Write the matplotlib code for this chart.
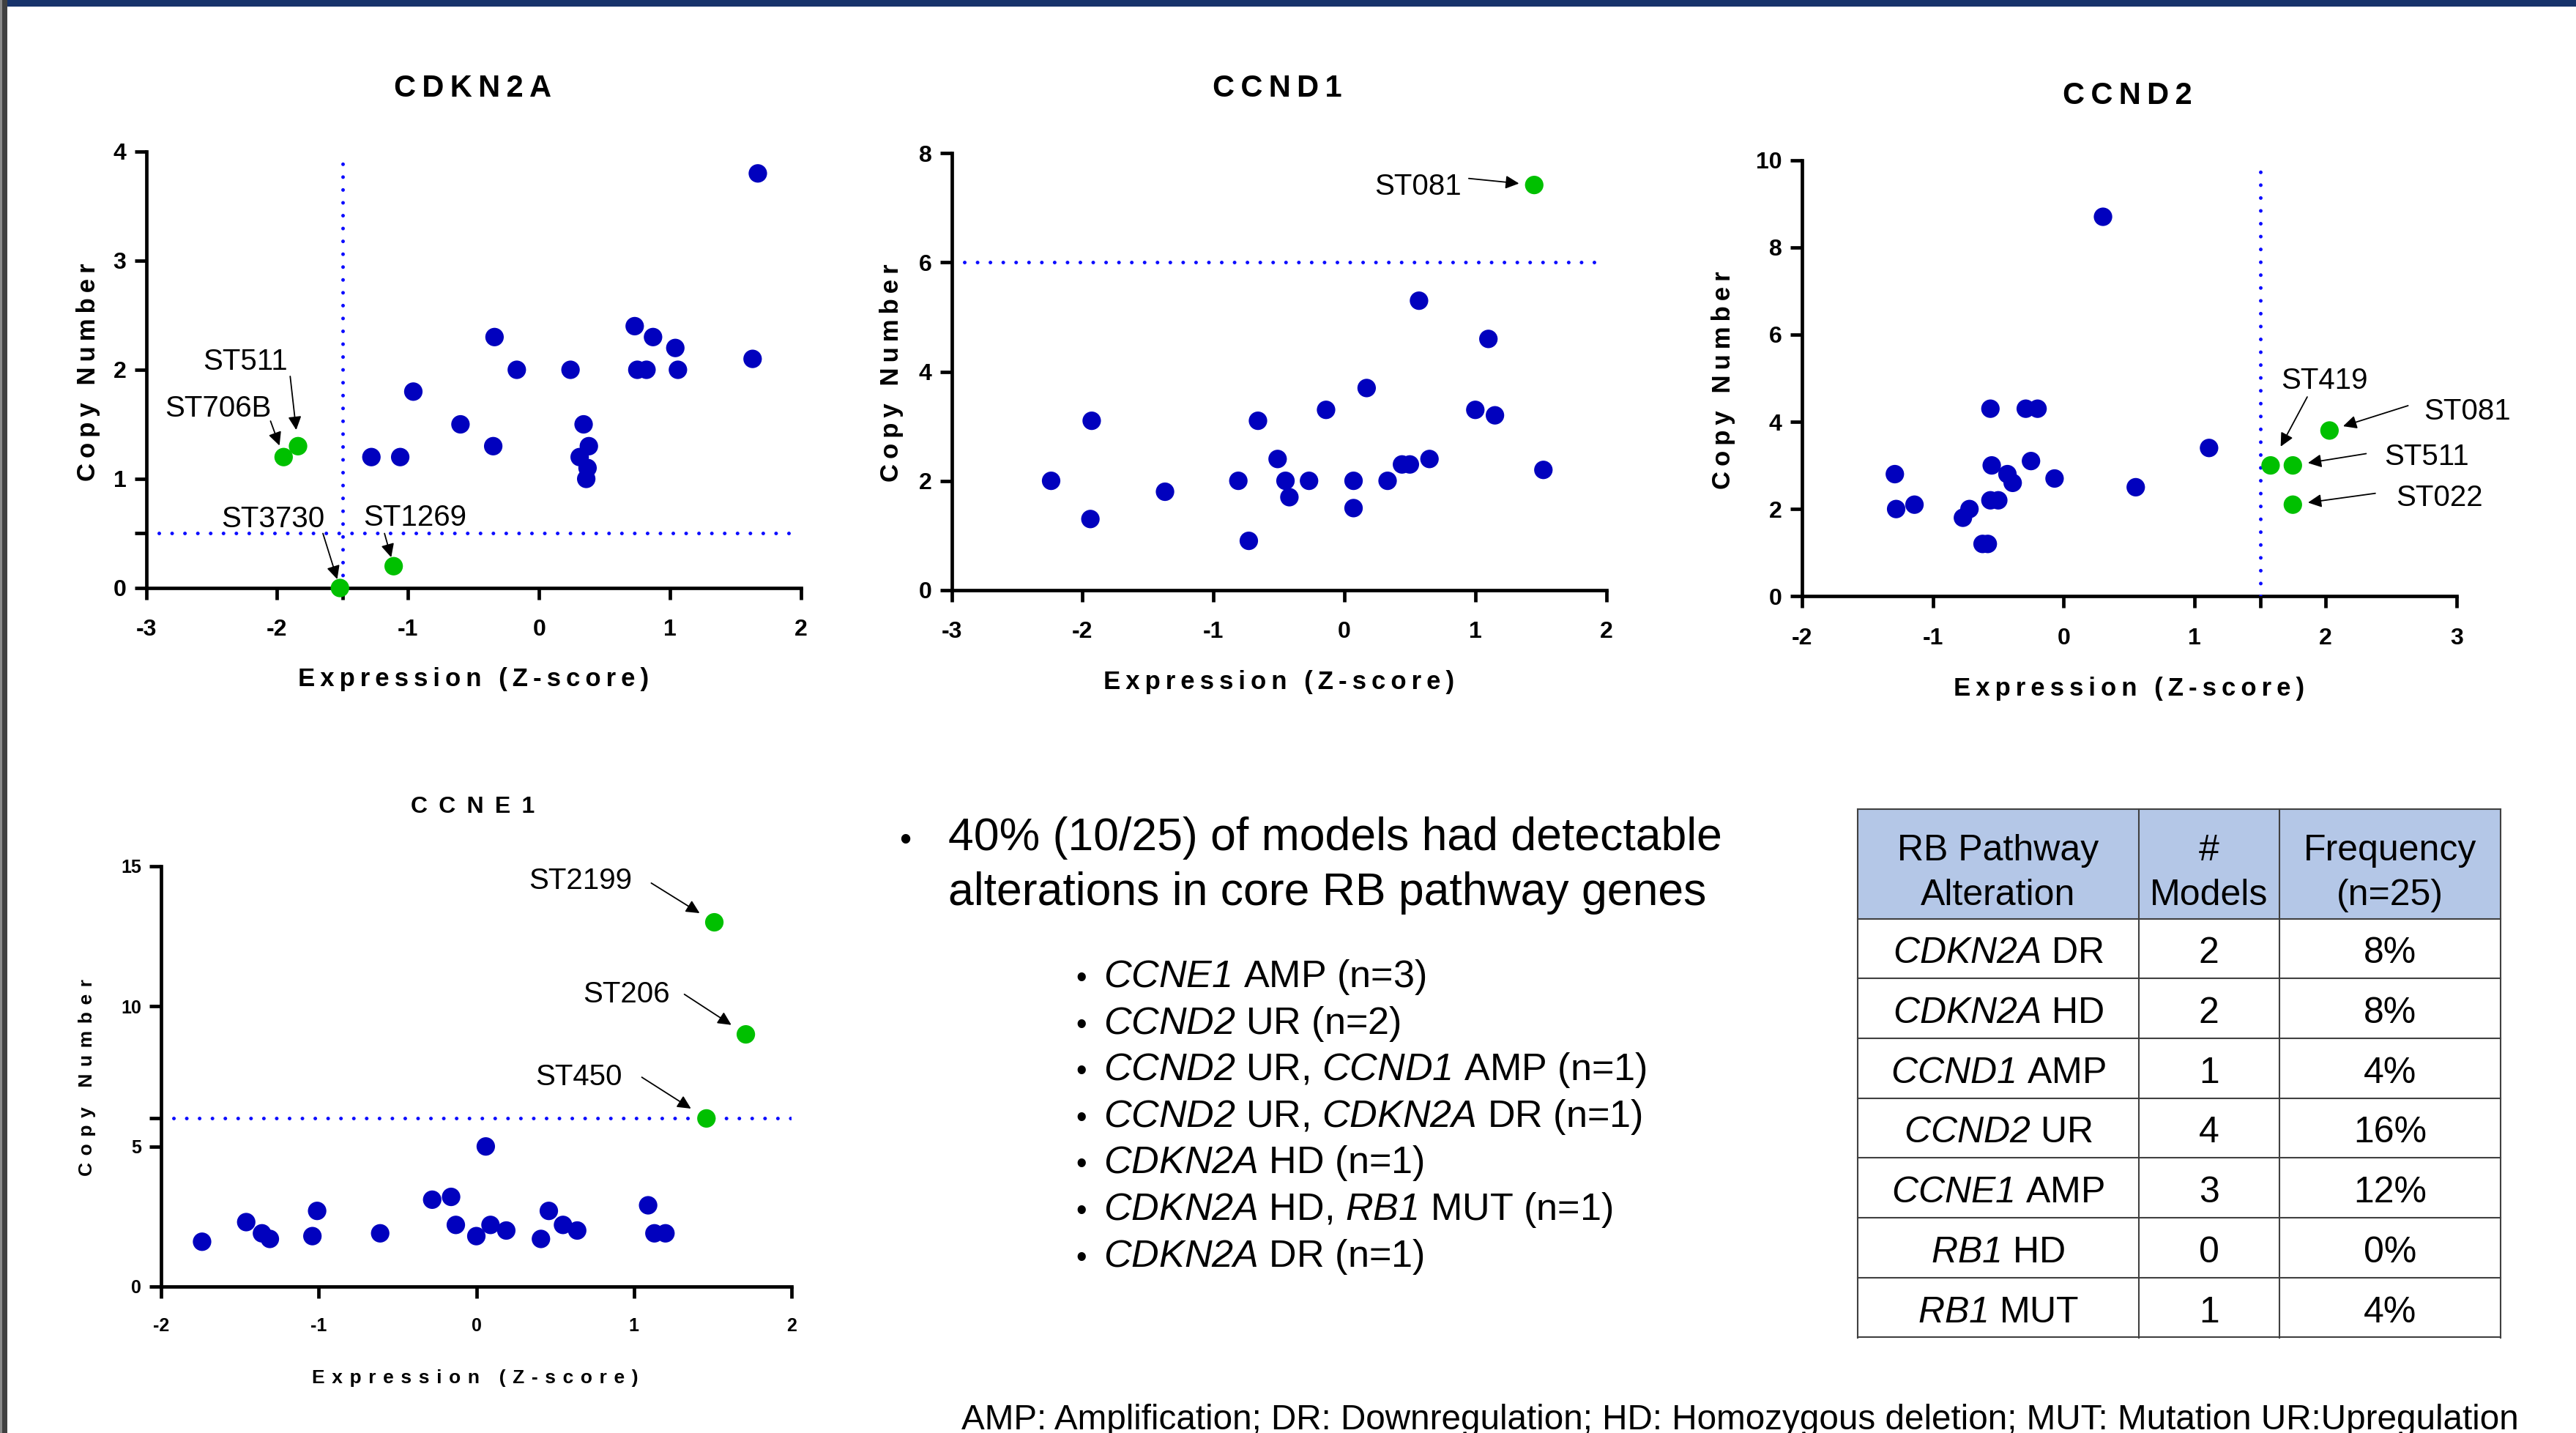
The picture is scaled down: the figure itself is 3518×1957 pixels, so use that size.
import matplotlib
matplotlib.use('Agg')
from matplotlib import pyplot as plt
from matplotlib.patches import Rectangle

plt.rcParams['font.family'] = ['Liberation Sans', 'DejaVu Sans']
plt.rcParams['mathtext.fontset'] = 'custom'
# gene names are set in italics, digits included
plt.rcParams['mathtext.rm'] = 'Liberation Sans:italic'
plt.rcParams['mathtext.it'] = 'Liberation Sans:italic'
plt.rcParams['mathtext.bf'] = 'Liberation Sans:bold'

# ---- data ----
cdkn2a_x = [1.67, 0.73, 0.87, 1.04, 1.06, 0.75, 0.82, 0.24, -0.17, -0.34, 1.63,
            -0.96, -0.60, -0.35, -1.28, -1.06, 0.34, 0.38, 0.31, 0.37, 0.36]
cdkn2a_y = [3.8, 2.4, 2.3, 2.2, 2.0, 2.0, 2.0, 2.0, 2.0, 2.3, 2.1,
            1.8, 1.5, 1.3, 1.2, 1.2, 1.5, 1.3, 1.2, 1.1, 1.0]
cdkn2a_alt_x = [-1.95, -1.84, -1.52, -1.11]
cdkn2a_alt_y = [1.2, 1.3, 0.0, 0.2]
cdkn2a_alt_names = ['ST706B', 'ST511', 'ST3730', 'ST1269']

ccnd1_x = [0.57, 1.10, 0.17, -0.14, 1.00, 1.15, -1.93, -0.66, -0.51, 0.65, 0.44, 0.50,
           1.52, -2.24, -0.81, -0.45, -0.27, 0.07, 0.33, -1.37, -0.42, 0.07, -1.94, -0.73]
ccnd1_y = [5.3, 4.6, 3.7, 3.3, 3.3, 3.2, 3.1, 3.1, 2.4, 2.4, 2.3, 2.3,
           2.2, 2.0, 2.0, 2.0, 2.0, 2.0, 2.0, 1.8, 1.7, 1.5, 1.3, 0.9]
ccnd1_alt_x = [1.45]
ccnd1_alt_y = [7.42]
ccnd1_alt_names = ['ST081']

ccnd2_x = [0.30, -0.56, -0.29, -0.20, 1.11, -1.29, -0.55, -0.25, -0.43, -0.39,
           -0.07, 0.55, -1.28, -1.14, -0.72, -0.77, -0.56, -0.50, -0.62, -0.58]
ccnd2_y = [8.7, 4.3, 4.3, 4.3, 3.4, 2.8, 3.0, 3.1, 2.8, 2.6,
           2.7, 2.5, 2.0, 2.1, 2.0, 1.8, 2.2, 2.2, 1.2, 1.2]
ccnd2_alt_x = [1.58, 1.75, 2.03, 1.75]
ccnd2_alt_y = [3.0, 3.0, 3.8, 2.1]
ccnd2_alt_names = ['ST419', 'ST511', 'ST081', 'ST022']

ccne1_x = [0.06, -0.28, -0.16, -1.01, -1.46, -1.36, -1.31, -1.74, -1.04, -0.61, -0.13,
           0.00, 0.09, 0.19, 0.46, 0.55, 0.64, 0.41, 1.09, 1.13, 1.20]
ccne1_y = [5.0, 3.1, 3.2, 2.7, 2.3, 1.9, 1.7, 1.6, 1.8, 1.9, 2.2,
           1.8, 2.2, 2.0, 2.7, 2.2, 2.0, 1.7, 2.9, 1.9, 1.9]
ccne1_alt_x = [1.51, 1.71, 1.46]
ccne1_alt_y = [13.0, 9.0, 6.0]
ccne1_alt_names = ['ST2199', 'ST206', 'ST450']

summary_line1 = '40% (10/25) of models had detectable'
summary_line2 = 'alterations in core RB pathway genes'
sub_items = [
    r'$\mathit{CCNE1}$ AMP (n=3)',
    r'$\mathit{CCND2}$ UR (n=2)',
    r'$\mathit{CCND2}$ UR, $\mathit{CCND1}$ AMP (n=1)',
    r'$\mathit{CCND2}$ UR, $\mathit{CDKN2A}$ DR (n=1)',
    r'$\mathit{CDKN2A}$ HD (n=1)',
    r'$\mathit{CDKN2A}$ HD, $\mathit{RB1}$ MUT (n=1)',
    r'$\mathit{CDKN2A}$ DR (n=1)',
]

table_head_top = ['RB Pathway', '#', 'Frequency']
table_head_bottom = ['Alteration', 'Models', '(n=25)']
table_genes = ['CDKN2A', 'CDKN2A', 'CCND1', 'CCND2', 'CCNE1', 'RB1', 'RB1']
table_alts = ['DR', 'HD', 'AMP', 'UR', 'AMP', 'HD', 'MUT']
table_models = [2, 2, 1, 4, 3, 0, 1]
table_freq = ['8%', '8%', '4%', '16%', '12%', '0%', '4%']

footnote = ('AMP: Amplification; DR: Downregulation; HD: Homozygous deletion; '
            'MUT: Mutation UR:Upregulation')

# ---- layout helpers (pixel positions of the 3518x1957 slide) ----
W, H = 3518, 1957
BLUE = '#0101BE'
GREEN = '#00C000'
LINE = '#0D0DFF'
THIN = '\u2009'
HAIR = '\u200a'


def fx(px):
    return px / W


def fy(py):
    return 1 - py / H


def spaced(s, sep):
    return sep.join(s)


def box(left, top, right, bottom):
    return [fx(left), fy(bottom), (right - left) / W, (bottom - top) / H]


fig = plt.figure(figsize=(W / 100, H / 100), dpi=100)

# slide frame
fig.patches.append(Rectangle((0, fy(9)), 1, 9 / H, transform=fig.transFigure,
                             fc='#17336B', ec='none', zorder=0))
fig.patches.append(Rectangle((0, 0), 2.5 / W, 1, transform=fig.transFigure,
                             fc='#8A8A8A', ec='none', zorder=0))
fig.patches.append(Rectangle((2.5 / W, 0), 7.5 / W, 1, transform=fig.transFigure,
                             fc='#404040', ec='none', zorder=0))


def panel(rect, bx, by, gx, gy, xlim, ylim, xticks, xlabels, yticks, ylabels, tsize):
    ax = fig.add_axes(rect)
    ax.patch.set_alpha(0)
    ax.set_xlim(*xlim)
    ax.set_ylim(*ylim)
    for side in ['top', 'right']:
        ax.spines[side].set_visible(False)
    for side in ['left', 'bottom']:
        ax.spines[side].set_linewidth(3.4)
    ax.set_xticks(xticks, xlabels, fontweight='bold', fontsize=tsize)
    ax.set_yticks(yticks, ylabels, fontweight='bold', fontsize=tsize)
    ax.tick_params(direction='out', length=11.5, width=3.4)
    ax.tick_params(axis='x', pad=19)
    ax.tick_params(axis='y', pad=8)
    ax.scatter(bx, by, s=330, color=BLUE, edgecolors='none', zorder=4, clip_on=False)
    ax.scatter(gx, gy, s=330, color=GREEN, edgecolors='none', zorder=4, clip_on=False)
    return ax


def cutoff(ax, kind, value, start=0.0):
    style = dict(color=LINE, lw=3.6, linestyle=(0, (0.01, 3.5)),
                 dash_capstyle='round', zorder=3)
    if kind == 'h':
        ax.axhline(value, xmin=start, **style)
    else:
        ax.axvline(value, ymin=start, **style)


def label_points(ax, gx, gy, names, notes, size):
    for name, tx, ty, ax0, ay0, shrink in notes:
        i = names.index(name)
        ax.text(tx, ty, name, ha='center', va='center_baseline', fontsize=size,
                clip_on=False)
        ax.annotate('', xy=(gx[i], gy[i]), xytext=(ax0, ay0),
                    arrowprops=dict(arrowstyle='-|>,head_length=0.55,head_width=0.27',
                                    color='black', lw=1.3, shrinkA=0, shrinkB=shrink,
                                    mutation_scale=20),
                    annotation_clip=False)


def titles(title, tx, ty, tsize, sep, xl_y, yl_x, yl_y, lsize, lsep, cx):
    fig.text(fx(tx), fy(ty), spaced(title, sep), ha='center', va='center_baseline',
             fontsize=tsize, fontweight='bold')
    fig.text(fx(cx), fy(xl_y), spaced('Expression (Z-score)', lsep), ha='center',
             va='center_baseline', fontsize=lsize, fontweight='bold')
    fig.text(fx(yl_x), fy(yl_y), spaced('Copy Number', lsep), ha='center', va='center',
             rotation=90, fontsize=lsize, fontweight='bold')


# CDKN2A
ax1 = panel(box(199.5, 207, 1094, 803), cdkn2a_x, cdkn2a_y, cdkn2a_alt_x, cdkn2a_alt_y,
            (-3, 2), (0, 4),
            [-3, -2, -1.5, -1, 0, 1, 2], ['-3', '-2', '', '-1', '0', '1', '2'],
            [0, 0.5, 1, 2, 3, 4], ['0', '', '1', '2', '3', '4'], 23)
cutoff(ax1, 'h', 0.5, start=0.02)
cutoff(ax1, 'v', -1.5)
label_points(ax1, cdkn2a_alt_x, cdkn2a_alt_y, cdkn2a_alt_names, [
    ('ST511', -2.24, 2.10, -1.90, 1.94, 16),
    ('ST706B', -2.45, 1.67, -2.05, 1.53, 12),
    ('ST3730', -2.03, 0.66, -1.65, 0.50, 9),
    ('ST1269', -0.95, 0.67, -1.18, 0.50, 9),
], 29)
titles('CDKN2A', 646, 116, 30, THIN, 924, 121, 508, 25, THIN, 646.75)

# CCND1
ax2 = panel(box(1299.6, 209.4, 2193.6, 805.7), ccnd1_x, ccnd1_y, ccnd1_alt_x, ccnd1_alt_y,
            (-3, 2), (0, 8),
            [-3, -2, -1, 0, 1, 2], ['-3', '-2', '-1', '0', '1', '2'],
            [0, 2, 4, 6, 8], ['0', '2', '4', '6', '8'], 23)
cutoff(ax2, 'h', 6, start=0.02)
label_points(ax2, ccnd1_alt_x, ccnd1_alt_y, ccnd1_alt_names, [
    ('ST081', 0.56, 7.44, 0.95, 7.54, 15),
], 29)
titles('CCND1', 1744, 116, 30, THIN, 927.6, 1217.5, 509.5, 25, THIN, 1746.6)

# CCND2
ax3 = panel(box(2460.8, 218.6, 3354.8, 814.3), ccnd2_x, ccnd2_y, ccnd2_alt_x, ccnd2_alt_y,
            (-2, 3), (0, 10),
            [-2, -1, 0, 1, 1.5, 2, 3], ['-2', '-1', '0', '1', '', '2', '3'],
            [0, 2, 4, 6, 8, 10], ['0', '2', '4', '6', '8', '10'], 23)
cutoff(ax3, 'v', 1.5)
label_points(ax3, ccnd2_alt_x, ccnd2_alt_y, ccnd2_alt_names, [
    ('ST419', 1.99, 5.00, 1.86, 4.57, 21),
    ('ST081', 3.08, 4.30, 2.63, 4.37, 14),
    ('ST511', 2.77, 3.26, 2.31, 3.27, 15),
    ('ST022', 2.87, 2.33, 2.38, 2.36, 15),
], 29)
titles('CCND2', 2905, 127, 30, THIN, 937, 2354, 519, 25, THIN, 2907.8)

# CCNE1
ax4 = panel(box(220, 1183, 1081, 1757), ccne1_x, ccne1_y, ccne1_alt_x, ccne1_alt_y,
            (-2, 2), (0, 15),
            [-2, -1, 0, 1, 2], ['-2', '-1', '0', '1', '2'],
            [0, 5, 6, 10, 15], ['0', '5', '', '10', '15'], 18)
cutoff(ax4, 'h', 6, start=0.02)
label_points(ax4, ccne1_alt_x, ccne1_alt_y, ccne1_alt_names, [
    ('ST2199', 0.66, 14.58, 1.11, 14.40, 17),
    ('ST206', 0.95, 10.54, 1.32, 10.43, 17),
    ('ST450', 0.65, 7.59, 1.05, 7.47, 18),
], 29)
titles('CCNE1', 646, 1099, 23, ' ' + THIN, 1880, 119, 1472, 19, ' ' + HAIR, 649)

# summary text
fig.text(fx(1236), fy(1161), '\u2022', ha='center', va='baseline', fontsize=33)
fig.text(fx(1295), fy(1161), summary_line1, ha='left', va='baseline', fontsize=45)
fig.text(fx(1295), fy(1236), summary_line2, ha='left', va='baseline', fontsize=45)
for k, item in enumerate(sub_items):
    base = 1348 + 63.6 * k
    fig.text(fx(1477), fy(base), '\u2022', ha='center', va='baseline', fontsize=30)
    fig.text(fx(1507), fy(base), item, ha='left', va='baseline', fontsize=37.5)

# table
tab = fig.add_axes(box(2537, 1105, 3415.4, 1826.6))
tab.set_xlim(0, 878.4)
tab.set_ylim(721.6, 0)
tab.axis('off')
cols = [0, 383.7, 575.9, 878.4]
head_h = 149.5
row_h = 81.7
tab.add_patch(Rectangle((0, 0), 878.4, head_h, fc='#B4C7E7', ec='none'))
grid = dict(color='#404040', lw=1.5, clip_on=False, solid_capstyle='projecting')
for k in range(len(table_genes) + 2):
    yy = 0 if k == 0 else head_h + row_h * (k - 1)
    tab.plot([0, 878.4], [yy, yy], **grid)
for c in cols:
    tab.plot([c, c], [0, 721.6], **grid)
centers = [(cols[i] + cols[i + 1]) / 2 for i in range(3)]
for i in range(3):
    tab.text(centers[i], 52, table_head_top[i], ha='center', va='center_baseline', fontsize=36)
    tab.text(centers[i], 113, table_head_bottom[i], ha='center', va='center_baseline', fontsize=36)
for r in range(len(table_genes)):
    yc = head_h + row_h * (r + 0.5) + 2
    tab.text(centers[0], yc, r'$\mathit{%s}$ %s' % (table_genes[r], table_alts[r]),
             ha='center', va='center_baseline', fontsize=36)
    tab.text(centers[1], yc, str(table_models[r]), ha='center', va='center_baseline', fontsize=36)
    tab.text(centers[2], yc, table_freq[r], ha='center', va='center_baseline', fontsize=36)

fig.text(fx(1313), fy(1952), footnote, ha='left', va='baseline', fontsize=34.3)

fig.savefig('out.png', dpi=100, facecolor='white')
